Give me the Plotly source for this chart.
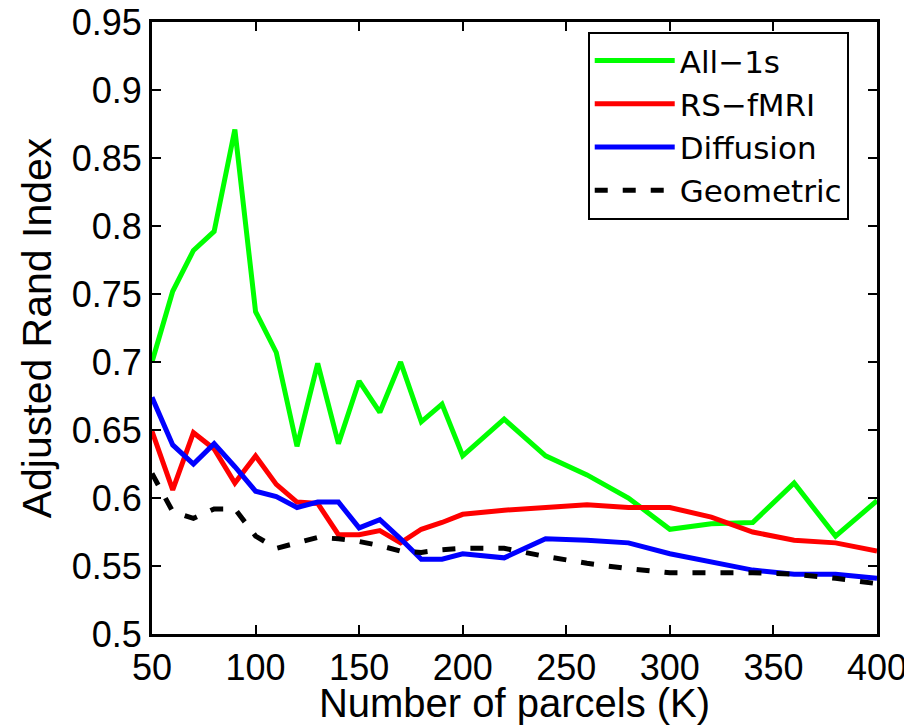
import plotly.graph_objects as go

parcels = [50, 60, 70, 80, 90, 100, 110, 120, 130, 140, 150, 160, 170, 180, 190,
           200, 220, 240, 260, 280, 300, 320, 340, 360, 380, 400]

all_1s = [0.700, 0.752, 0.782, 0.796, 0.871, 0.737, 0.707, 0.638, 0.699, 0.640,
          0.686, 0.663, 0.700, 0.656, 0.669, 0.631, 0.658, 0.631, 0.617, 0.600,
          0.577, 0.581, 0.582, 0.611, 0.572, 0.598]
rs_fmri = [0.649, 0.606, 0.648, 0.636, 0.611, 0.631, 0.610, 0.597, 0.596, 0.573,
           0.573, 0.576, 0.567, 0.577, 0.582, 0.588, 0.591, 0.593, 0.595, 0.593,
           0.593, 0.586, 0.575, 0.569, 0.567, 0.561]
diffusion = [0.674, 0.639, 0.625, 0.640, 0.623, 0.605, 0.601, 0.593, 0.597, 0.597,
             0.578, 0.584, 0.570, 0.555, 0.555, 0.559, 0.556, 0.570, 0.569, 0.567,
             0.559, 0.553, 0.547, 0.544, 0.544, 0.541]
geometric = [0.618, 0.590, 0.585, 0.592, 0.592, 0.572, 0.563, 0.567, 0.571, 0.570,
             0.568, 0.565, 0.561, 0.560, 0.562, 0.563, 0.563, 0.557, 0.552, 0.548,
             0.545, 0.545, 0.545, 0.544, 0.541, 0.537]

series_names = ["All\u22121s", "RS\u2212fMRI", "Diffusion", "Geometric"]

x_ticks = [50, 100, 150, 200, 250, 300, 350, 400]
x_ticktext = ["50", "100", "150", "200", "250", "300", "350", "400"]
y_ticks = [0.5, 0.55, 0.6, 0.65, 0.7, 0.75, 0.8, 0.85, 0.9, 0.95]
y_ticktext = ["0.5", "0.55", "0.6", "0.65", "0.7", "0.75", "0.8", "0.85", "0.9", "0.95"]

FONT = "Liberation Sans, Arial, sans-serif"
LEGEND_FONT = "DejaVu Sans, sans-serif"

fig = go.Figure()
styles = [
    dict(color="#00FF00", width=5, dash="solid"),
    dict(color="#FF0000", width=5, dash="solid"),
    dict(color="#0000FF", width=5, dash="solid"),
    dict(color="#000000", width=5, dash="13px,15px"),
]
for name, ys, st in zip(series_names, [all_1s, rs_fmri, diffusion, geometric], styles):
    fig.add_trace(go.Scatter(x=parcels, y=ys, mode="lines", name=name, line=st))

axis_common = dict(
    showgrid=False, zeroline=False, showline=True, linecolor="black", linewidth=3,
    mirror="allticks", ticks="inside", ticklen=9, tickwidth=2, tickcolor="black",
    tickfont=dict(family=FONT, size=36, color="black"), automargin=False,
    ticklabeloverflow="allow",
)

# page body has an 8px default margin, so the figure is 8px smaller and offset
fig.update_layout(
    width=904, height=717,
    margin=dict(l=144, r=35, t=14, b=91),
    paper_bgcolor="white", plot_bgcolor="white",
    font=dict(family=FONT, color="black"),
    xaxis=dict(range=[50, 400], tickvals=x_ticks, ticktext=x_ticktext,
               title=dict(text="Number of parcels (K)", font=dict(family=FONT, size=40), standoff=3),
               **axis_common),
    yaxis=dict(range=[0.5, 0.95], tickvals=y_ticks, ticktext=y_ticktext,
               title=dict(text="Adjusted Rand Index", font=dict(family=FONT, size=41), standoff=8),
               **axis_common),
    legend=dict(x=0.601, y=0.984, xanchor="left", yanchor="top",
                bgcolor="white", bordercolor="black", borderwidth=2,
                font=dict(family=LEGEND_FONT, size=31, color="black"),
                itemwidth=80, tracegroupgap=0),
    showlegend=True,
)

fig.write_html("out.html")
